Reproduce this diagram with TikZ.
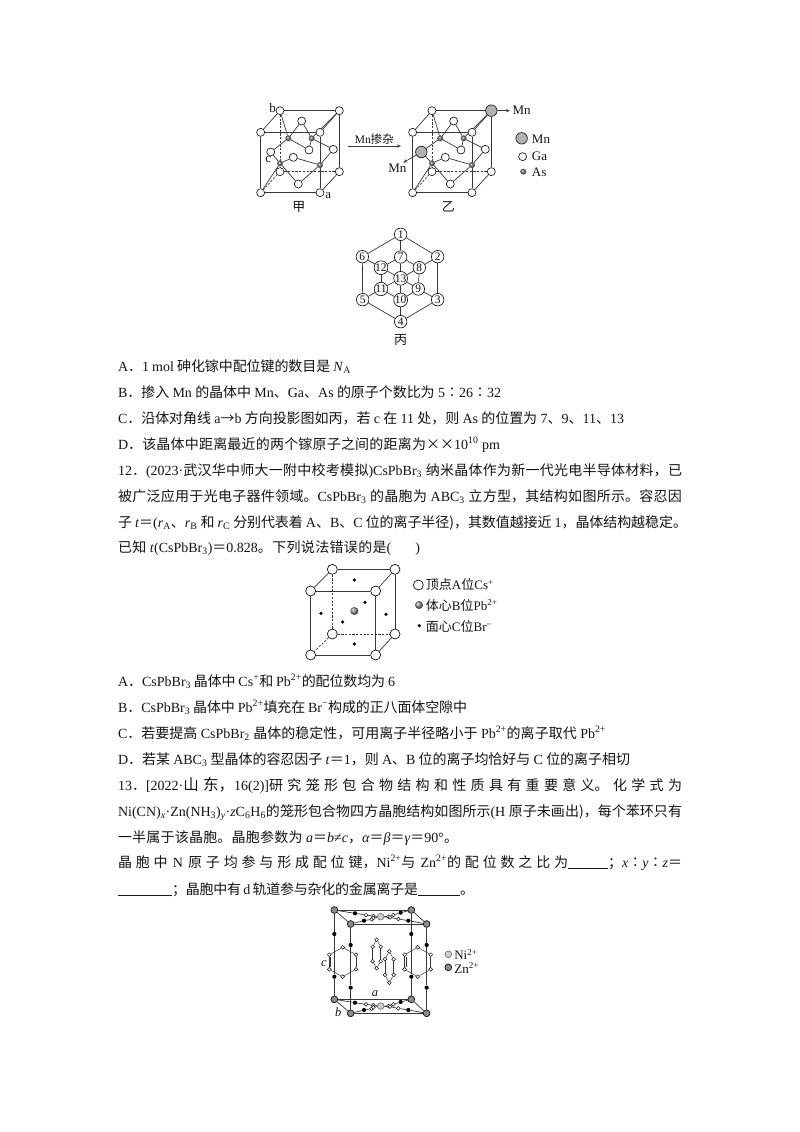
\documentclass[tikz,border=0pt]{standalone}
\usepackage{fontspec}
\usepackage{graphicx}
\usetikzlibrary{backgrounds,arrows.meta}
\setmainfont{Liberation Serif}
\newfontfamily\cjk{Noto Sans CJK SC}
\newcommand\zh[1]{{\cjk #1}}
\newcommand\dn[1]{\textsubscript{#1}}
\newcommand\upp[1]{\textsuperscript{#1}}
\newcommand\tl[5]{\node[tx] (#1) at (#2,#3) {\parbox[b]{#4pt}{\parfillskip=0pt\tolerance=10000\hbadness=10000 #5}};}
\XeTeXlinebreaklocale "zh"
\XeTeXlinebreakskip=0pt plus 4pt minus 0.25pt
\definecolor{ink}{gray}{0.08}
\tikzset{
 tx/.style={anchor=base west,inner sep=0pt,outer sep=0pt,font=\fontsize{14}{16}\selectfont,text=ink},
 lb/.style={inner sep=0pt,outer sep=0pt,text=ink,font=\fontsize{13}{14}\selectfont},
 bond/.style={line width=0.7pt,draw=ink!85},
 dsh/.style={bond,dash pattern=on 2.2pt off 1.5pt},
 ga/.style={circle,draw=ink,fill=white,line width=0.65pt,minimum size=8pt,inner sep=0pt},
 mn/.style={circle,draw=ink,fill=black!30,line width=0.65pt,minimum size=11.5pt,inner sep=0pt},
 asat/.style={circle,draw=ink!70,ball color=black!55,minimum size=5.5pt,inner sep=0pt},
 num/.style={circle,draw=ink,fill=white,line width=0.65pt,minimum size=12.5pt,inner sep=0pt,text=ink,font=\fontsize{11.5}{12}\selectfont},
 cs/.style={circle,draw=ink,fill=white,line width=0.7pt,minimum size=10pt,inner sep=0pt},
 pb/.style={circle,ball color=black!45,minimum size=8pt,inner sep=0pt},
 br/.style={circle,fill=black,minimum size=3.6pt,inner sep=0pt},
 sm/.style={circle,draw=ink,fill=white,line width=0.5pt,minimum size=3.8pt,inner sep=0pt},
 blk/.style={circle,fill=black,minimum size=4.2pt,inner sep=0pt},
 zn/.style={circle,draw=ink,fill=black!45,line width=0.7pt,minimum size=6.8pt,inner sep=0pt},
 ni/.style={circle,draw=ink!70,fill=black!20,line width=0.5pt,minimum size=6.8pt,inner sep=0pt},
 ar/.style={bond,-{Stealth[length=4pt,width=3.2pt]}},
}
\begin{document}
\begin{tikzpicture}[x=1pt,y=-1pt]
\useasboundingbox (0,0) rectangle (800,1132);
% ---------- figures jia / yi ----------
\begin{scope}[shift={(240,90)},x=0.3333pt,y=-0.3333pt]
\foreach \p/\d in {j/0,y/456}{
 \foreach \n/\x/\y in {fa/62/127,fb/240/127,fc/240/308,fd/62/308,ba/120/62,bb/298/62,bc/298/245,bd/120/245,
   top/185/93,bot/175/282,lef/92/186,rig/280/178,fro/160/202,bac/207/180}
   {\node[ga] (\p\n) at (\x+\d,\y) {};}
 \foreach \n/\x/\y in {sa/145/145,sb/215/145,sc/120/220,sd/240/225}
   {\node[asat] (\p\n) at (\x+\d,\y) {};}
}
\node[mn] (ybb) at (754,62) {};
\node[mn] (ylef) at (544,186) {};
\begin{scope}[on background layer]
\foreach \p in {j,y}{
 \foreach \a/\b in {fa/fb,fb/fc,fc/fd,fd/fa,ba/bb,bb/bc,ba/fa,bb/fb,bc/fc,
   sa/ba,sa/top,sa/lef,sa/bac,sb/bb,sb/top,sb/bac,sb/rig,sc/fd,sc/lef,sc/fro,sc/bot,sd/fc,sd/fro,sd/rig,sd/bot}
   {\draw[bond] (\p\a) -- (\p\b);}
 \foreach \a/\b in {ba/bd,bd/bc,bd/fd}
   {\draw[dsh] (\p\a) -- (\p\b);}
}
\end{scope}
\coordinate (mnE) at (810,62);
\coordinate (mnW) at (490,218);
\draw[ar] (ybb) -- (mnE);
\draw[ar] (ylef) -- (mnW);
\coordinate (dopeA) at (323,168);
\coordinate (dopeB) at (483,168);
\draw[ar] (dopeA) -- (dopeB);
\node[lb] (mnT1) at (845,62) {Mn};
\node[lb] (mnT2) at (472,235) {Mn};
\node[lb,font=\fontsize{11.5}{12}\selectfont] (dopeT) at (403,148) {Mn\zh{掺杂}};
\node[mn] (lgMn) at (845,145) {};
\node[ga] (lgGa) at (848,200) {};
\node[asat] (lgAs) at (850,245) {};
\node[lb,anchor=west] (lgMnT) at (876,147) {Mn};
\node[lb,anchor=west] (lgGaT) at (876,200) {Ga};
\node[lb,anchor=west] (lgAsT) at (876,247) {As};
\node[lb] (lbb) at (98,55) {b};
\node[lb] (lbc) at (85,210) {c};
\node[lb] (lba) at (265,316) {a};
\node[lb,font=\fontsize{13}{14}\selectfont\cjk] (jia) at (177,350) {甲};
\node[lb,font=\fontsize{13}{14}\selectfont\cjk] (yi) at (625,350) {乙};
\end{scope}
% ---------- figure bing ----------
\begin{scope}[shift={(330,215)},x=0.3333pt,y=-0.3333pt]
\foreach \n/\x/\y in {1/212/58,2/323/125,3/323/254,4/212/320,5/98/254,6/97/125,7/212/126,8/268/158,9/265/222,10/212/255,11/153/222,12/153/158,13/212/190}
 {\node[num] (h\n) at (\x,\y) {\n};}
\begin{scope}[on background layer]
\foreach \a/\b in {1/2,2/3,3/4,4/5,5/6,6/1,1/7,7/13,7/8,7/12,8/9,9/10,10/11,11/12,13/8,13/9,13/10,13/11,13/12,6/12,2/8,5/11,3/9,4/10}
 {\draw[bond] (h\a) -- (h\b);}
\end{scope}
\node[lb,font=\fontsize{13}{14}\selectfont\cjk] (bing) at (212,375) {丙};
\end{scope}
% ---------- text block 1 ----------
\tl{t1}{118}{371}{233}{A\zh{．}1~mol~\zh{砷化镓中配位键的数目是}~\textit{N}\dn{A}}
\tl{t2}{118}{397}{383}{B\zh{．掺入}~Mn~\zh{的晶体中}~Mn\zh{、}Ga\zh{、}As~\zh{的原子个数比为}~5\zh{∶}26\zh{∶}32}
\tl{t3}{118}{423}{506}{C\zh{．沿体对角线}~a\zh{→}b~\zh{方向投影图如丙，若}~c~\zh{在}~11~\zh{处，则}~As~\zh{的位置为}~7\zh{、}9\zh{、}11\zh{、}13}
\tl{t4}{118}{449}{382}{D\zh{．该晶体中距离最近的两个镓原子之间的距离为××}10\upp{10}~pm}
\tl{t5}{118}{475}{564}{12\zh{．}(2023·\zh{武汉华中师大一附中校考模拟})CsPbBr\dn{3}~\zh{纳米晶体作为新一代光电半导体材料，已}}
\tl{t6}{118}{501}{564}{\zh{被广泛应用于光电子器件领域。}CsPbBr\dn{3}~\zh{的晶胞为}~ABC\dn{3}~\zh{立方型，其结构如图所示。容忍因}}
\tl{t7}{118}{527}{569}{\zh{子}~\textit{t}\zh{＝}(\textit{r}\dn{A}\zh{、}\textit{r}\dn{B}~\zh{和}~\textit{r}\dn{C}~\zh{分别代表着}~A\zh{、}B\zh{、}C~\zh{位的离子半径)，其数值越接近}~1\zh{，晶体结构越稳定。}}
\tl{t8}{118}{552}{302}{\zh{已知}~\textit{t}(CsPbBr\dn{3})\zh{＝}0.828\zh{。下列说法错误的是}(\hspace{24pt})}
% ---------- figure CsPbBr3 ----------
\begin{scope}[shift={(290,555)},x=0.3333pt,y=-0.3333pt]
\foreach \n/\x/\y in {a/62/108,b/257/108,c/257/300,d/62/300,e/127/43,f/315/43,g/315/237,h/127/237}
 {\node[cs] (c\n) at (\x,\y) {};}
\begin{scope}[on background layer]
\foreach \a/\b in {a/b,b/c,c/d,d/a,e/f,f/g,e/a,f/b,g/c}
 {\draw[bond] (c\a) -- (c\b);}
\foreach \a/\b in {e/h,h/g,h/d}
 {\draw[dsh] (c\a) -- (c\b);}
\end{scope}
\foreach \n/\x/\y in {1/193/75,2/225/142,3/93/175,4/288/178,5/158/201,6/193/267}
 {\node[br] (d\n) at (\x,\y) {};}
\node[pb] (cen) at (193,168) {};
\node[cs] (lgA) at (385,90) {};
\node[pb] (lgB) at (387,150) {};
\node[br] (lgC) at (388,212) {};
\node[lb,anchor=west] (lgAT) at (408,90) {\zh{顶点}A\zh{位}Cs\upp{+}};
\node[lb,anchor=west] (lgBT) at (408,150) {\zh{体心}B\zh{位}Pb\upp{2+}};
\node[lb,anchor=west] (lgCT) at (408,216) {\zh{面心}C\zh{位}Br\upp{−}};
\end{scope}
% ---------- text block 2 ----------
\tl{u1}{118}{686}{277}{A\zh{．}CsPbBr\dn{3}~\zh{晶体中}~Cs\upp{+}\zh{和}~Pb\upp{2+}\zh{的配位数均为}~6}
\tl{u2}{118}{712}{349}{B\zh{．}CsPbBr\dn{3}~\zh{晶体中}~Pb\upp{2+}\zh{填充在}~Br\upp{−}\zh{构成的正八面体空隙中}}
\tl{u3}{118}{738}{488}{C\zh{．若要提高}~CsPbBr\dn{2}~\zh{晶体的稳定性，可用离子半径略小于}~Pb\upp{2+}\zh{的离子取代}~Pb\upp{2+}}
\tl{u4}{118}{764}{512}{D\zh{．若某}~ABC\dn{3}~\zh{型晶体的容忍因子}~\textit{t}\zh{＝}1\zh{，则}~A\zh{、}B~\zh{位的离子均恰好与}~C~\zh{位的离子相切}}
\tl{u5}{118}{790}{564}{13\zh{．}[2022·{\fontsize{15.5}{16}\selectfont\zh{山东，}}16(2)]\zh{研究笼形包合物结构和性质具有重要意义。化学式为}}
\tl{u6}{118}{816}{564}{Ni(CN)\dn{\textit{x}}·Zn(NH\dn{3})\dn{\textit{y}}·\textit{z}C\dn{6}H\dn{6}\zh{的笼形包合物四方晶胞结构如图所示}(H~\zh{原子未画出)，每个苯环只有}}
\tl{u7}{118}{842}{340}{\zh{一半属于该晶胞。晶胞参数为}~\textit{a}\zh{＝}\textit{b}≠\textit{c}\zh{，}\textit{α}\zh{＝}\textit{β}\zh{＝}\textit{γ}\zh{＝}90°\zh{。}}
\tl{u8}{118}{867}{564}{\zh{晶胞中}~N~\zh{原子均参与形成配位键，}Ni\upp{2+}\zh{与}~Zn\upp{2+}\zh{的配位数之比为}\rule[-1.5pt]{40pt}{0.5pt}\zh{；}\textit{x}\zh{∶}\textit{y}\zh{∶}\textit{z}\zh{＝}}
\tl{u9}{118}{894}{356}{\rule[-1.5pt]{54pt}{0.5pt}\zh{；晶胞中有}~d~\zh{轨道参与杂化的金属离子是}\rule[-1.5pt]{42pt}{0.5pt}\zh{。}}
% ---------- figure cage ----------
\begin{scope}[shift={(310,900)},x=0.3333pt,y=-0.3333pt]
\foreach \p/\s in {t/0,b/268}{
 \node[zn] (\p A) at (73,30+\s) {};
 \node[zn] (\p B) at (304,30+\s) {};
 \node[zn] (\p C) at (122,72+\s) {};
 \node[zn] (\p D) at (350,72+\s) {};
 \node[ni] (\p N) at (212,50+\s) {};
 \foreach \n/\x/\y in {a1/135/40,a6/272/38,b1/162/62,b6/295/62}
  {\node[blk] (\p\n) at (\x,\y+\s) {};}
 \foreach \n/\x/\y in {a2/168/45,a3/190/48,a4/235/50,a5/250/45,b2/185/58,b3/190/54,b4/240/52,b5/265/57}
  {\node[sm] (\p\n) at (\x,\y+\s) {};}
 \begin{scope}[on background layer]
 \foreach \a/\b in {A/B,C/D,A/C,B/D,A/a1,a1/a2,a2/a3,a3/N,N/a4,a4/a5,a5/a6,a6/B,C/b1,b1/b2,b2/b3,b3/N,N/b4,b4/b5,b5/b6,b6/D}
  {\draw[bond] (\p\a) -- (\p\b);}
 \end{scope}
}
\foreach \n/\x/\y in {v1/73/102,v2/73/230,v3/122/135,v4/122/263,v5/304/102,v6/304/230,v7/350/135,v8/350/263}
 {\node[blk] (\n) at (\x,\y) {};}
\foreach \p/\q/\u/\v in {tA/v1/v2/bA,tC/v3/v4/bC,tB/v5/v6/bB,tD/v7/v8/bD}{
 \draw[bond] (\p) -- (\q);
 \draw[bond] (\q) -- (\u);
 \draw[bond] (\u) -- (\v);
}
\foreach \h/\dx/\dy/\w/\hh in {L/98/186/40/44,R/323/186/39/44,M/200/162/12/43,Q/238/201/13/47}{
 \node[sm] (\h1) at (\dx,\dy-\hh) {};
 \node[sm] (\h2) at (\dx+\w,\dy-\hh/2) {};
 \node[sm] (\h3) at (\dx+\w,\dy+\hh/2) {};
 \node[sm] (\h4) at (\dx,\dy+\hh) {};
 \node[sm] (\h5) at (\dx-\w,\dy+\hh/2) {};
 \node[sm] (\h6) at (\dx-\w,\dy-\hh/2) {};
 \foreach \a/\b in {1/2,2/3,3/4,4/5,5/6,6/1}
  {\draw[bond,line width=0.5pt] (\h\a) -- (\h\b);}
}
\draw[bond,line width=0.5pt] ([xshift=1.4pt]L5.north) -- ([xshift=1.4pt]L6.south);
\draw[bond,line width=0.5pt] ([xshift=1.4pt]R5.north) -- ([xshift=1.4pt]R6.south);
\node[lb,font=\fontsize{12.5}{13}\selectfont\itshape] (ca) at (195,282) {a};
\node[lb,font=\fontsize{12.5}{13}\selectfont\itshape] (cb) at (85,338) {b};
\node[lb,font=\fontsize{12.5}{13}\selectfont\itshape] (cc) at (42,190) {c};
\node[ni] (lgNi) at (415,163) {};
\node[zn] (lgZn) at (415,202) {};
\node[lb,anchor=west] (lgNiT) at (433,163) {Ni\upp{2+}};
\node[lb,anchor=west] (lgZnT) at (433,204) {Zn\upp{2+}};
\end{scope}
\end{tikzpicture}
\end{document}
